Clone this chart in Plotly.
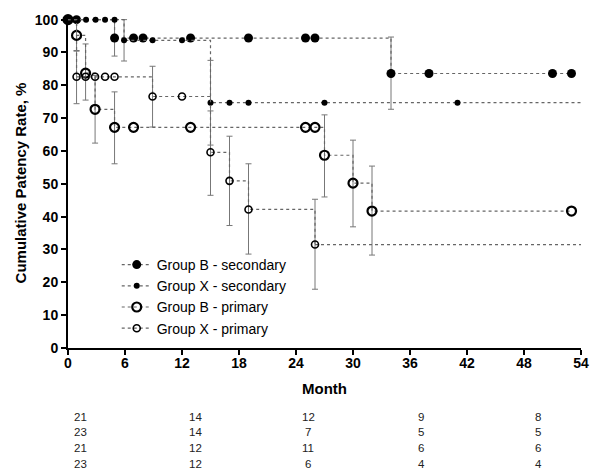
import plotly.graph_objects as go

# ---- data ----
# Group B - secondary
b_sec_t = [0, 0.9, 4.9, 6.9, 7.9, 12.9, 19, 25, 26, 34, 38, 51, 53]
b_sec_v = [100, 100, 94.4, 94.4, 94.4, 94.4, 94.4, 94.4, 94.4, 83.6, 83.6, 83.6, 83.6]
# Group X - secondary
x_sec_t = [0, 0.9, 1.9, 2.9, 3.9, 4.9, 5.9, 8.9, 12.0, 15, 17, 19, 27, 41]
x_sec_v = [100, 100, 100, 100, 100, 100, 93.7, 93.7, 93.7, 74.7, 74.7, 74.7, 74.7, 74.7]
# Group B - primary
b_pri_t = [0, 0.9, 1.85, 2.85, 4.9, 6.9, 12.9, 25, 26, 27, 30, 32, 53]
b_pri_v = [100, 95.2, 83.7, 72.7, 67.2, 67.2, 67.2, 67.2, 67.2, 58.7, 50.2, 41.7, 41.7]
# Group X - primary
x_pri_t = [0, 0.9, 1.85, 2.85, 3.9, 4.9, 8.9, 12.0, 15, 17, 19, 26]
x_pri_v = [100, 82.6, 82.6, 82.6, 82.6, 82.6, 76.6, 76.6, 59.6, 50.9, 42.2, 31.5]

# error bars at events: time, value, upper, lower
err_t = [4.9, 5.9, 34, 15, 0.9, 1.85, 2.85, 4.9, 27, 30, 32, 0.9, 8.9, 15, 17, 19, 26]
err_v = [94.4, 93.7, 83.6, 74.7, 95.2, 83.7, 72.7, 67.2, 58.7, 50.2, 41.7, 82.6, 76.6, 59.6, 50.9, 42.2, 31.5]
err_hi = [100, 100, 94.7, 87.6, 99.8, 92.6, 83.0, 78.0, 71.0, 63.3, 55.4, 90.4, 85.8, 72.2, 64.5, 56.1, 45.3]
err_lo = [88.9, 87.4, 72.7, 61.8, 90.6, 75.5, 62.4, 56.1, 46.0, 36.9, 28.3, 74.4, 67.3, 46.5, 37.3, 28.6, 17.9]

x_ticks = [0, 6, 12, 18, 24, 30, 36, 42, 48, 54]
y_ticks = [0, 10, 20, 30, 40, 50, 60, 70, 80, 90, 100]

risk_t = [1.3, 13.4, 25.3, 37.2, 49.5]
risk_b_sec = [21, 14, 12, 9, 8]
risk_x_sec = [23, 14, 7, 5, 5]
risk_b_pri = [21, 12, 11, 6, 6]
risk_x_pri = [23, 12, 6, 4, 4]

end_month = 54

FONT = "Arial, Liberation Sans, Helvetica, sans-serif"
LINE = "#666666"

fig = go.Figure()

# error bars
fig.add_trace(go.Scatter(
    x=err_t, y=err_v, mode="markers", marker=dict(size=0.1, opacity=0),
    error_y=dict(type="data", symmetric=False,
                 array=[h - v for h, v in zip(err_hi, err_v)],
                 arrayminus=[v - l for l, v in zip(err_lo, err_v)],
                 color="#777777", thickness=1, width=3),
    showlegend=False, hoverinfo="skip", cliponaxis=False))

# extensions of the last levels
for t, v in [(x_sec_t, x_sec_v), (x_pri_t, x_pri_v)]:
    fig.add_trace(go.Scatter(
        x=[t[-1], end_month], y=[v[-1], v[-1]], mode="lines",
        line=dict(color=LINE, width=1.2, dash="dot"), showlegend=False,
        hoverinfo="skip"))

series = [
    ("Group B - secondary", b_sec_t, b_sec_v,
     dict(symbol="circle", size=9, color="black")),
    ("Group X - secondary", x_sec_t, x_sec_v,
     dict(symbol="circle", size=6, color="black")),
    ("Group B - primary", b_pri_t, b_pri_v,
     dict(symbol="circle-open", size=9, color="black", line=dict(width=2.2))),
    ("Group X - primary", x_pri_t, x_pri_v,
     dict(symbol="circle-open", size=7, color="black", line=dict(width=1.6))),
]
for name, t, v, mk in series:
    fig.add_trace(go.Scatter(
        x=t, y=v, name=name, mode="lines+markers", line_shape="hv",
        line=dict(color=LINE, width=1.2, dash="dot"), marker=mk,
        cliponaxis=False))

# number at risk table
rows = [risk_b_sec, risk_x_sec, risk_b_pri, risk_x_pri]
row_y = [-0.209, -0.255, -0.303, -0.350]
for vals, yy in zip(rows, row_y):
    for t, n in zip(risk_t, vals):
        fig.add_annotation(x=t, y=yy, xref="x", yref="paper", text=str(n),
                           showarrow=False, xanchor="center", yanchor="middle",
                           font=dict(family=FONT, size=11.5, color="#222222"))

fig.update_layout(
    width=591, height=469,
    margin=dict(l=68, r=10, t=18, b=121, autoexpand=False),
    paper_bgcolor="white", plot_bgcolor="white",
    font=dict(family=FONT, color="black"),
    legend=dict(x=0.095, y=0.30, xanchor="left", yanchor="top",
                bgcolor="rgba(0,0,0,0)", font=dict(family=FONT, size=14),
                itemwidth=30, tracegroupgap=0),
    showlegend=True,
)
fig.update_xaxes(
    range=[0, 54], tickvals=x_ticks, ticktext=[f"<b>{v}</b>" for v in x_ticks],
    showline=True, linecolor="black", linewidth=2, ticks="outside",
    ticklen=5, tickwidth=2, tickcolor="black", showgrid=False, zeroline=False,
    tickfont=dict(size=14, family=FONT), automargin=False, ticklabelstandoff=-4,
    title=dict(text="<b>Month</b>", font=dict(size=15, family=FONT), standoff=14))
fig.update_yaxes(
    range=[0, 100.5], tickvals=y_ticks, ticktext=[f"<b>{v}</b>" for v in y_ticks],
    showline=True, linecolor="black", linewidth=2, ticks="outside",
    ticklen=5, tickwidth=2, tickcolor="black", showgrid=False, zeroline=False,
    tickfont=dict(size=14, family=FONT), automargin=False,
    title=dict(text="<b>Cumulative Patency Rate, %</b>",
               font=dict(size=15, family=FONT), standoff=5))

fig.write_html(
    "out.html",
    config={"displayModeBar": False},
    post_script="document.body.style.margin='0';document.body.style.overflow='hidden';")
